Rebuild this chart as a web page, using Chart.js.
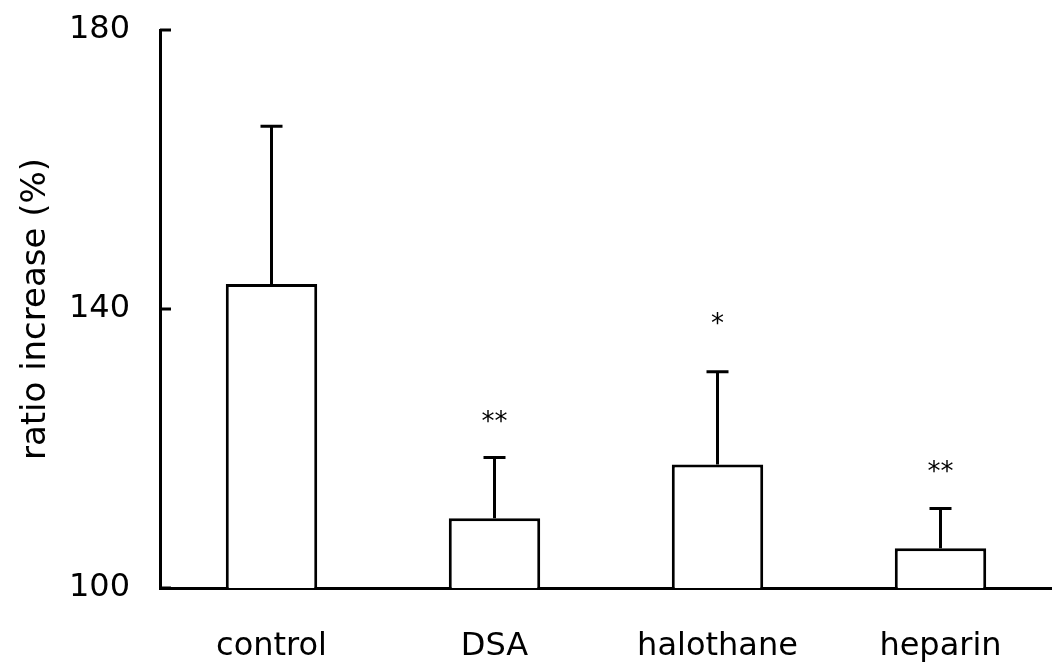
<!DOCTYPE html>
<html>
<head>
<meta charset="utf-8">
<script src="https://cdn.jsdelivr.net/npm/chart.js@4"></script>
<style>
  html, body { margin: 0; padding: 0; background: #fff; }
  #wrap { width: 1052px; height: 671px; }
</style>
</head>
<body>
<div id="wrap"><canvas id="ratioChart" width="1052" height="671"></canvas></div>
<script>
// data
const categories = ["control", "DSA", "halothane", "heparin"];
const means = [143.6, 110.0, 117.7, 105.7];
const errors = [22.6, 8.7, 13.3, 5.7];
const marks = ["", "**", "*", "**"];
const yTicks = [100, 140, 180];

const FONT = "'DejaVu Sans', sans-serif";

// error bars, significance stars and inward y ticks
const extrasPlugin = {
  id: "extras",
  afterDatasetsDraw(chart) {
    const ctx = chart.ctx;
    const x = chart.scales.x;
    const y = chart.scales.y;
    ctx.save();
    ctx.strokeStyle = "#000";
    ctx.lineWidth = 3;
    ctx.fillStyle = "#000";
    ctx.font = "26px " + FONT;
    ctx.textAlign = "center";
    ctx.textBaseline = "alphabetic";
    means.forEach((m, i) => {
      const cx = x.getPixelForValue(i);
      const yTop = y.getPixelForValue(m);
      const yErr = y.getPixelForValue(m + errors[i]);
      ctx.beginPath();
      ctx.moveTo(cx, yTop);
      ctx.lineTo(cx, yErr);
      ctx.moveTo(cx - 11, yErr);
      ctx.lineTo(cx + 11, yErr);
      ctx.stroke();
      if (marks[i]) {
        // single star sits a bit higher in the original
        const gap = marks[i].length === 1 ? 40 : 28;
        ctx.fillText(marks[i], cx, yErr - gap);
      }
    });
    // tick marks point inward
    yTicks.forEach((v) => {
      const py = y.getPixelForValue(v);
      ctx.beginPath();
      ctx.moveTo(x.left, py);
      ctx.lineTo(x.left + 11, py);
      ctx.stroke();
    });
    ctx.restore();
  },
};

new Chart(document.getElementById("ratioChart"), {
  type: "bar",
  data: {
    labels: categories,
    datasets: [
      {
        data: means,
        backgroundColor: "#fff",
        borderColor: "#000",
        borderWidth: 3,
        barPercentage: 0.41,
        categoryPercentage: 1.0,
      },
    ],
  },
  options: {
    responsive: false,
    animation: false,
    layout: { padding: { top: 30, right: 0, bottom: 0, left: 0 } },
    plugins: {
      legend: { display: false },
      tooltip: { enabled: false },
    },
    scales: {
      x: {
        grid: { display: false, drawTicks: false },
        border: { display: true, color: "#000", width: 3 },
        ticks: {
          color: "#000",
          padding: 39,
          font: { family: FONT, size: 32 },
        },
        afterFit(scale) { scale.height = 83; },
      },
      y: {
        min: 100,
        max: 180,
        afterBuildTicks(scale) {
          scale.ticks = yTicks.map((v) => ({ value: v }));
        },
        grid: { display: false, drawTicks: false },
        border: { display: true, color: "#000", width: 3 },
        ticks: {
          color: "#000",
          padding: 30,
          font: { family: FONT, size: 32 },
        },
        title: {
          display: true,
          text: "ratio increase (%)",
          color: "#000",
          padding: { top: 16, bottom: 0 },
          font: { family: FONT, size: 34 },
        },
        afterFit(scale) {
          scale.width = 160;
          scale.paddingTop = 0;
          scale.paddingBottom = 0;
        },
      },
    },
  },
  plugins: [extrasPlugin],
});
</script>
</body>
</html>
